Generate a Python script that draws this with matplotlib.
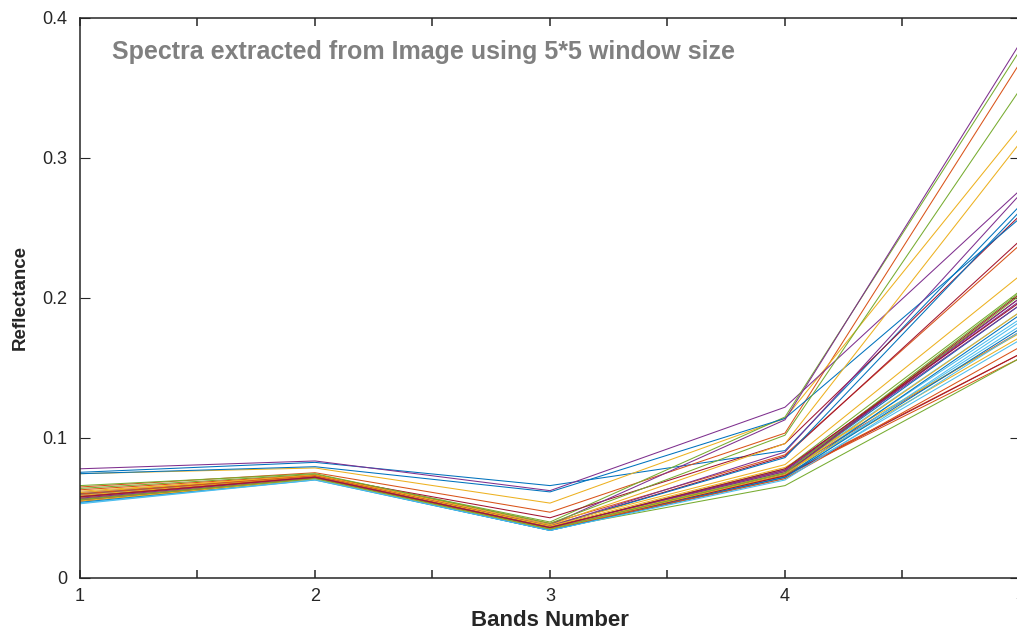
import matplotlib
matplotlib.use("Agg")
import matplotlib.pyplot as plt
from matplotlib.ticker import FixedLocator

bands = [1, 2, 3, 4, 5]

spectra = [
    [0.0755, 0.0826, 0.0660, 0.091, 0.266],
    [0.0650, 0.0752, 0.0470, 0.1035, 0.368],
    [0.0745, 0.0786, 0.0535, 0.114, 0.322],
    [0.0780, 0.0836, 0.0624, 0.122, 0.277],
    [0.0640, 0.0740, 0.0400, 0.115, 0.377],
    [0.0580, 0.0715, 0.0360, 0.075, 0.190],
    [0.0600, 0.0730, 0.0430, 0.096, 0.259],
    [0.0745, 0.0795, 0.0615, 0.114, 0.257],
    [0.0630, 0.0735, 0.0390, 0.088, 0.238],
    [0.0620, 0.0730, 0.0380, 0.096, 0.311],
    [0.0610, 0.0725, 0.0380, 0.113, 0.382],
    [0.0660, 0.0745, 0.0390, 0.102, 0.349],
    [0.0560, 0.0710, 0.0350, 0.074, 0.185],
    [0.0590, 0.0725, 0.0370, 0.087, 0.241],
    [0.0600, 0.0720, 0.0370, 0.086, 0.262],
    [0.0570, 0.0720, 0.0360, 0.076, 0.176],
    [0.0610, 0.0735, 0.0380, 0.081, 0.216],
    [0.0590, 0.0725, 0.0370, 0.090, 0.274],
    [0.0580, 0.0720, 0.0360, 0.078, 0.205],
    [0.0550, 0.0705, 0.0350, 0.073, 0.180],
    [0.0570, 0.0720, 0.0360, 0.077, 0.200],
    [0.0580, 0.0715, 0.0360, 0.075, 0.195],
    [0.0600, 0.0730, 0.0370, 0.074, 0.160],
    [0.0590, 0.0725, 0.0370, 0.079, 0.175],
    [0.0580, 0.0720, 0.0360, 0.076, 0.198],
    [0.0570, 0.0715, 0.0360, 0.073, 0.202],
    [0.0540, 0.0700, 0.0340, 0.072, 0.170],
    [0.0560, 0.0715, 0.0350, 0.074, 0.203],
    [0.0560, 0.0710, 0.0350, 0.072, 0.188],
    [0.0580, 0.0725, 0.0360, 0.073, 0.157],
    [0.0570, 0.0715, 0.0360, 0.075, 0.172],
    [0.0560, 0.0710, 0.0350, 0.074, 0.200],
    [0.0550, 0.0705, 0.0350, 0.066, 0.157],
    [0.0530, 0.0700, 0.0340, 0.071, 0.183],
    [0.0550, 0.0712, 0.0350, 0.073, 0.160],
    [0.0540, 0.0705, 0.0340, 0.072, 0.178],
    [0.0560, 0.0710, 0.0350, 0.071, 0.165],
    [0.0550, 0.0705, 0.0350, 0.074, 0.190],
    [0.0570, 0.0720, 0.0360, 0.077, 0.195],
    [0.0560, 0.0710, 0.0350, 0.075, 0.204],
    [0.0535, 0.0702, 0.0340, 0.070, 0.176],
    [0.0580, 0.0720, 0.0360, 0.078, 0.197],
]

x_major = [1, 2, 3, 4, 5]
x_minor = [1.5, 2.5, 3.5, 4.5]
y_ticks = [0, 0.1, 0.2, 0.3, 0.4]
y_labels = ["0", "0.1", "0.2", "0.3", "0.4"]

title_text = "Spectra extracted from Image using 5*5 window size"
xlabel_text = "Bands Number"
ylabel_text = "Reflectance"

matlab_colors = ["#0072BD", "#D95319", "#EDB120", "#7E2F8E",
                 "#77AC30", "#4DBEEE", "#A2142F"]

plt.rcParams['font.family'] = ['Liberation Sans', 'DejaVu Sans']

W, H = 1017, 630
fig = plt.figure(figsize=(W / 100, H / 100), dpi=100)
ax = fig.add_axes([80 / W, 52 / H, 940 / W, 560 / H])
ax.set_prop_cycle(color=matlab_colors)

for s in spectra:
    ax.plot(bands, s, linewidth=0.75)

ax.set_xlim(1, 5)
ax.set_ylim(0, 0.4)
ax.xaxis.set_major_locator(FixedLocator(x_major))
ax.xaxis.set_minor_locator(FixedLocator(x_minor))
ax.set_yticks(y_ticks)
ax.set_yticklabels(y_labels)

dark = "#262626"
for sp in ax.spines.values():
    sp.set_color(dark)
    sp.set_linewidth(1.1)

ax.tick_params(axis='x', which='both', direction='in', top=True, bottom=True,
               length=5.5, width=1.1, color=dark, labelsize=13,
               labelcolor=dark, pad=7)
ax.tick_params(axis='y', which='both', direction='in', left=True, right=True,
               length=7.5, width=0.8, color=dark, labelsize=13,
               labelcolor=dark, pad=9)

ax.set_xlabel(xlabel_text, fontsize=16, fontweight='bold', color=dark,
              labelpad=4)
ax.set_ylabel(ylabel_text, fontsize=13.5, fontweight='bold', color=dark,
              labelpad=10)

ax.text(32 / 940, (578 - 52) / 560, title_text, transform=ax.transAxes,
        fontsize=18, fontweight='bold', color="#808080", va='center',
        ha='left')

fig.savefig("out.png", dpi=100)
